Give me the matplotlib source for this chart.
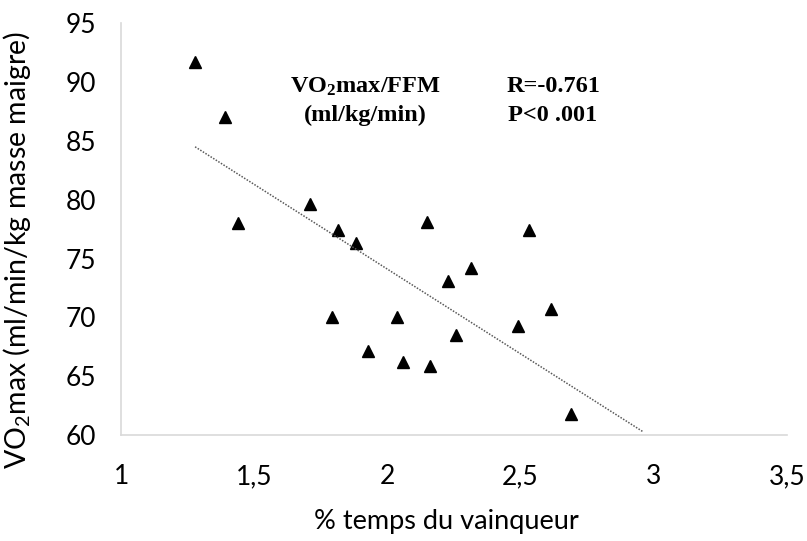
import numpy as np
import matplotlib
matplotlib.use("Agg")
import matplotlib.pyplot as plt

# Données
temps_pct = np.array([1.278, 1.39, 1.709, 1.44, 1.815, 2.149, 2.53, 1.882, 2.314, 2.228,
                      1.792, 2.036, 2.614, 2.49, 2.258, 1.927, 2.059, 2.16, 2.69])
vo2_ffm = np.array([91.7, 87.0, 79.6, 78.0, 77.4, 78.1, 77.4, 76.3, 74.2, 73.1,
                    70.0, 70.0, 70.7, 69.3, 68.5, 67.1, 66.2, 65.9, 61.8])
# Courbe de tendance linéaire (pente, ordonnée à l'origine) et sa fin
tendance = (-14.4, 102.9)
tendance_fin = 2.96
xticks = [1, 1.5, 2, 2.5, 3, 3.5]
xtick_labels = ['1', '1,5', '2', '2,5', '3', '3,5']
yticks = [60, 65, 70, 75, 80, 85, 90, 95]

plt.rcParams['font.family'] = ['Lato', 'DejaVu Sans']
plt.rcParams['mathtext.default'] = 'regular'

fig = plt.figure(figsize=(8.07, 5.41), dpi=100)
ax = fig.add_axes([0.15, 0.196, 0.825, 0.761])

# Nuage de points
ax.plot(temps_pct, vo2_ffm, linestyle='none', marker='^', markersize=9,
        color='black')

# Droite de tendance
xr = np.array([temps_pct.min(), tendance_fin])
ax.plot(xr, tendance[0] * xr + tendance[1], linestyle=(0, (1, 1)),
        linewidth=1.1, color='#595959')

ax.set_xlim(1, 3.5)
ax.set_ylim(60, 95)
ax.set_xticks(xticks)
ax.set_xticklabels(xtick_labels)
ax.set_yticks(yticks)
ax.tick_params(length=0, labelsize=19, colors='black')
ax.tick_params(axis='x', pad=21)
ax.tick_params(axis='y', pad=18)

for cote in ['top', 'right']:
    ax.spines[cote].set_visible(False)
for cote in ['left', 'bottom']:
    ax.spines[cote].set_color('#d9d9d9')
    ax.spines[cote].set_linewidth(1.2)

ax.set_xlabel('% temps du vainqueur', fontsize=19.5)
ax.xaxis.set_label_coords(0.488, -0.18)
ax.set_ylabel('VO$_2$max (ml/min/kg masse maigre)', fontsize=20.5)
ax.yaxis.set_label_coords(-0.133, 0.45)

# Annotations
serif = dict(family='Liberation Serif', fontweight='bold', fontsize=17.5,
             ha='center', va='center')
ax.text(1.916, 89.6, 'VO$_2$max/FFM', **serif)
ax.text(1.916, 87.2, '(ml/kg/min)', **serif)
ax.text(2.622, 89.6, 'R=-0.761', **serif)
ax.text(2.622, 87.2, 'P<0 .001', **serif)

fig.savefig('out.png', dpi=100)
